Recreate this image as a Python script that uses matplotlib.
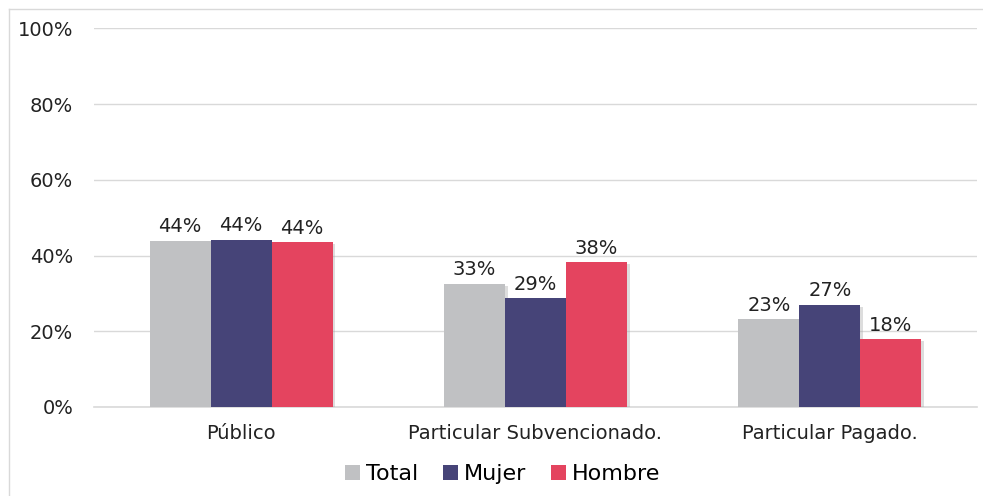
import matplotlib
matplotlib.use("Agg")
import matplotlib.pyplot as plt
import matplotlib.patheffects as pe
from matplotlib.lines import Line2D
from matplotlib.patches import Patch
import numpy as np

categories = ["Público", "Particular Subvencionado.", "Particular Pagado."]
series_names = ["Total", "Mujer", "Hombre"]
total = [0.439, 0.326, 0.232]
mujer = [0.441, 0.287, 0.270]
hombre = [0.435, 0.382, 0.179]
colors = ["#C0C1C3", "#464478", "#E4445F"]
yticks = [0, 0.2, 0.4, 0.6, 0.8, 1.0]
ytick_labels = ["0%", "20%", "40%", "60%", "80%", "100%"]

plt.rcParams['font.family'] = ['DejaVu Sans']

fig = plt.figure(figsize=(9.83, 4.96), dpi=100)
W, H = 983, 496
ax = fig.add_axes([94 / W, 1 - 407 / H, (977 - 94) / W, (407 - 28.3) / H])

x = np.arange(len(categories))
bw = 0.207
series = [total, mujer, hombre]
shadow = [pe.SimplePatchShadow(offset=(2, -1.5), shadow_rgbFace="#a0a0a0", alpha=0.35), pe.Normal()]
for i, (name, vals, c) in enumerate(zip(series_names, series, colors)):
    bars = ax.bar(x + (i - 1) * bw, vals, width=bw, color=c, zorder=3)
    for b in bars:
        b.set_path_effects(shadow)
    for xi, v in zip(x + (i - 1) * bw, vals):
        ax.text(xi, v + 0.012, f"{round(v * 100):.0f}%", ha="center", va="bottom",
                fontsize=14, color="#222222", zorder=4)

ax.set_xlim(-0.5, 2.5)
ax.set_ylim(0, 1.0)
ax.set_yticks(yticks)
ax.set_yticklabels(ytick_labels)
ax.set_xticks(x)
ax.set_xticklabels(categories)
ax.yaxis.grid(True, color="#D9D9D9", linewidth=1, zorder=0)
ax.axhline(0, color="#D9D9D9", linewidth=1.2, zorder=2, clip_on=False)
ax.set_axisbelow(True)
for s in ax.spines.values():
    s.set_visible(False)
ax.tick_params(axis="y", length=0, pad=15, labelsize=14, labelcolor="#222222")
ax.tick_params(axis="x", length=0, pad=12, labelsize=14, labelcolor="#222222")

handles = [Patch(facecolor=c, label=n) for n, c in zip(series_names, colors)]
leg = fig.legend(handles=handles, loc="center", bbox_to_anchor=(503 / W, 1 - 474 / H), ncol=3,
                 frameon=False, fontsize=16, handlelength=0.65, handleheight=0.65,
                 handletextpad=0.3, columnspacing=1.1)

fig.add_artist(Line2D([9 / W, 1], [1 - 9 / H, 1 - 9 / H], transform=fig.transFigure,
                      color="#D9D9D9", linewidth=1))
fig.add_artist(Line2D([9 / W, 9 / W], [0, 1 - 9 / H], transform=fig.transFigure,
                      color="#D9D9D9", linewidth=1))

fig.savefig("out.png", dpi=100, facecolor="white")
